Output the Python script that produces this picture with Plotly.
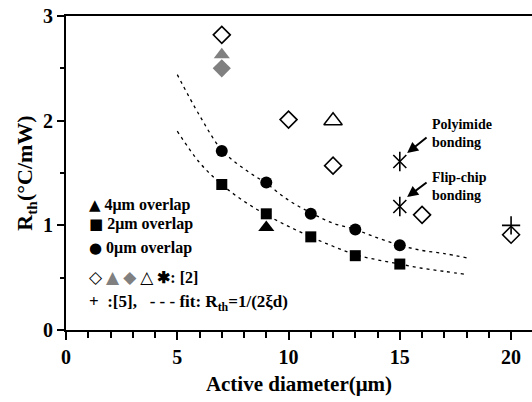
import plotly.graph_objects as go

FONT = "Liberation Serif"

# ---- data ----
d_meas = [7, 9, 11, 13, 15]
r_0um = [1.71, 1.41, 1.11, 0.96, 0.81]
r_2um = [1.39, 1.11, 0.89, 0.71, 0.63]
d_4um = [9]
r_4um = [0.98]

ref2_open_diamond_x = [7, 10, 12, 16, 20]
ref2_open_diamond_y = [2.82, 2.01, 1.57, 1.10, 0.91]
ref2_grey_tri_x = [7]
ref2_grey_tri_y = [2.63]
ref2_grey_diamond_x = [7]
ref2_grey_diamond_y = [2.50]
ref2_open_tri_x = [12]
ref2_open_tri_y = [2.00]
ref2_star_x = [15, 15]
ref2_star_y = [1.61, 1.18]
ref5_x = [20]
ref5_y = [1.00]

fit_x = [5, 6, 7, 8, 9, 10, 11, 12, 13, 14, 15, 16, 17, 18]
fit_upper = [2.44, 2.05, 1.72, 1.54, 1.40, 1.24, 1.12, 1.02, 0.96, 0.88, 0.81, 0.76, 0.73, 0.69]
fit_lower = [1.90, 1.60, 1.39, 1.23, 1.10, 0.99, 0.89, 0.80, 0.72, 0.67, 0.63, 0.59, 0.56, 0.53]

x_ticks = [0, 5, 10, 15, 20]
y_ticks = [0, 1, 2, 3]

fig = go.Figure()

dash = "3px,4px"
fig.add_trace(go.Scatter(x=fit_x, y=fit_upper, mode="lines",
                         line=dict(color="black", width=1.3, dash=dash, shape="spline")))
fig.add_trace(go.Scatter(x=fit_x, y=fit_lower, mode="lines",
                         line=dict(color="black", width=1.3, dash=dash, shape="spline")))

fig.add_trace(go.Scatter(x=d_meas, y=r_0um, mode="markers",
                         marker=dict(symbol="circle", size=12, color="black")))
fig.add_trace(go.Scatter(x=d_meas, y=r_2um, mode="markers",
                         marker=dict(symbol="square", size=11, color="black")))
fig.add_trace(go.Scatter(x=d_4um, y=r_4um, mode="markers",
                         marker=dict(symbol="triangle-up", size=14, color="black")))

fig.add_trace(go.Scatter(x=ref2_open_diamond_x, y=ref2_open_diamond_y, mode="markers",
                         marker=dict(symbol="diamond-open", size=13, color="black",
                                     line=dict(color="black", width=1.6))))
fig.add_trace(go.Scatter(x=ref2_grey_tri_x, y=ref2_grey_tri_y, mode="markers",
                         marker=dict(symbol="triangle-up", size=14, color="#808080")))
fig.add_trace(go.Scatter(x=ref2_grey_diamond_x, y=ref2_grey_diamond_y, mode="markers",
                         marker=dict(symbol="diamond", size=14, color="#808080")))
fig.add_trace(go.Scatter(x=ref2_open_tri_x, y=ref2_open_tri_y, mode="markers",
                         marker=dict(symbol="triangle-up-open", size=16, color="black",
                                     line=dict(color="black", width=1.5))))
fig.add_trace(go.Scatter(x=ref2_star_x, y=ref2_star_y, mode="markers",
                         marker=dict(symbol="x-thin-open", size=13, color="black",
                                     line=dict(color="black", width=1.6))))
fig.add_trace(go.Scatter(x=ref2_star_x, y=ref2_star_y, mode="markers",
                         marker=dict(symbol="line-ns-open", size=14, color="black",
                                     line=dict(color="black", width=1.6))))
fig.add_trace(go.Scatter(x=ref5_x, y=ref5_y, mode="markers",
                         marker=dict(symbol="cross-thin-open", size=13, color="black",
                                     line=dict(color="black", width=1.6))))

ann_font = dict(family=FONT, size=14, color="black")
leg_font = dict(family=FONT, size=16, color="black")

annotations = []
# arrow labels
annotations.append(dict(x=16.35, y=1.88, xref="x", yref="y", text="<b>Polyimide<br>bonding</b>",
                        showarrow=False, xanchor="left", yanchor="middle", align="left", font=ann_font))
annotations.append(dict(x=16.35, y=1.375, xref="x", yref="y", text="<b>Flip-chip<br>bonding</b>",
                        showarrow=False, xanchor="left", yanchor="middle", align="left", font=ann_font))
for (hx, hy, tx, ty) in [(15.33, 1.69, 16.27, 1.85), (15.33, 1.27, 16.27, 1.42)]:
    annotations.append(dict(x=hx, y=hy, ax=tx, ay=ty, xref="x", yref="y", axref="x", ayref="y",
                            text="", showarrow=True, arrowhead=2, arrowsize=1.1, arrowwidth=2,
                            arrowcolor="black", standoff=0))

# legend block
grey = "#808080"
sym = "font-family:DejaVu Sans;font-size:15px"
sym4 = "font-family:DejaVu Sans;font-size:17px"
leg_rows = [
    (1.194, f"<span style='{sym}'>▲</span> <b>4μm overlap</b>"),
    (1.013, f"<span style='{sym}'>■</span> <b>2μm overlap</b>"),
    (0.783, f"<span style='{sym}'>●</span> <b>0μm overlap</b>"),
    (0.506, f"<span style='{sym4}'>◇</span> "
            f"<span style='{sym4};color:{grey}'>▲</span> "
            f"<span style='{sym4};color:{grey}'>◆</span> "
            f"<span style='{sym4}'>△</span> "
            "<b>✱: [2]</b>"),
    (0.258, "<b>+  :[5],   - - - fit: R<sub>th</sub>=1/(2ξd)</b>"),
]
for i, (yv, txt) in enumerate(leg_rows):
    f = dict(leg_font)
    if i == 4:
        f["size"] = 17
    annotations.append(dict(x=0.95, y=yv, xref="x", yref="y", text=txt, showarrow=False,
                            xanchor="left", yanchor="middle", align="left", font=f))

fig.update_layout(
    width=532, height=402,
    margin=dict(l=66, r=0, t=16, b=72),
    paper_bgcolor="white", plot_bgcolor="white",
    showlegend=False,
    annotations=annotations,
    font=dict(family=FONT, color="black"),
)

fig.update_xaxes(
    range=[0, 20.94], tickvals=x_ticks, ticktext=[f"<b>{v}</b>" for v in x_ticks],
    tickfont=dict(family=FONT, size=20, color="black"),
    showgrid=False, zeroline=False, showline=True, linecolor="black", linewidth=2, mirror=True,
    ticks="outside", ticklen=8, tickwidth=1.5, tickcolor="black",
    minor=dict(dtick=1, ticks="outside", ticklen=6, tickwidth=1.5, tickcolor="black", showgrid=False),
    title=dict(text="<b>Active diameter(μm)</b>", font=dict(family=FONT, size=21, color="black"), standoff=9),
)
fig.update_yaxes(
    range=[0, 3], tickvals=y_ticks, ticktext=[f"<b>{v}</b>" for v in y_ticks],
    tickfont=dict(family=FONT, size=20, color="black"),
    showgrid=False, zeroline=False, showline=True, linecolor="black", linewidth=2, mirror=False,
    ticks="outside", ticklen=7, tickwidth=1.5, tickcolor="black",
    minor=dict(dtick=0.5, ticks="outside", ticklen=4, tickwidth=1.5, tickcolor="black", showgrid=False),
    title=dict(text="<b>R<sub>th</sub>(°C/mW)</b>", font=dict(family=FONT, size=22, color="black"), standoff=4),
)

fig.write_html("out.html")
